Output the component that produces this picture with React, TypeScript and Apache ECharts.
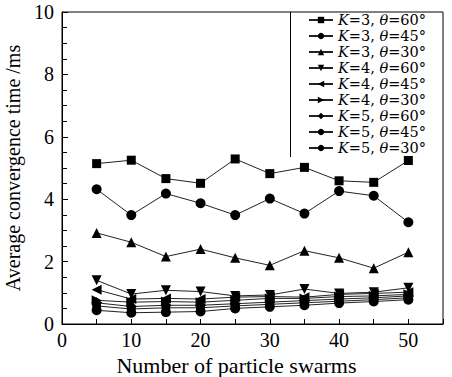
import React, { useEffect, useRef } from "react";
import * as echarts from "echarts";

const swarms = [5, 10, 15, 20, 25, 30, 35, 40, 45, 50];
const seriesNames = [
  "K=3, θ=60°", "K=3, θ=45°", "K=3, θ=30°",
  "K=4, θ=60°", "K=4, θ=45°", "K=4, θ=30°",
  "K=5, θ=60°", "K=5, θ=45°", "K=5, θ=30°",
];
const k3t60 = [5.14, 5.25, 4.66, 4.51, 5.29, 4.82, 5.02, 4.59, 4.54, 5.24];
const k3t45 = [4.32, 3.49, 4.18, 3.87, 3.49, 4.02, 3.54, 4.26, 4.11, 3.26];
const k3t30 = [2.92, 2.62, 2.16, 2.40, 2.12, 1.88, 2.35, 2.12, 1.79, 2.30];
const k4t60 = [1.40, 0.96, 1.08, 1.04, 0.90, 0.93, 1.12, 0.98, 1.02, 1.16];
const k4t45 = [1.10, 0.80, 0.82, 0.80, 0.86, 0.88, 0.86, 0.95, 0.98, 1.02];
const k4t30 = [0.76, 0.70, 0.72, 0.70, 0.76, 0.82, 0.82, 0.88, 0.90, 0.95];
const k5t60 = [0.68, 0.56, 0.60, 0.60, 0.65, 0.70, 0.75, 0.80, 0.84, 0.90];
const k5t45 = [0.58, 0.48, 0.52, 0.52, 0.58, 0.63, 0.68, 0.73, 0.78, 0.84];
const k5t30 = [0.44, 0.36, 0.38, 0.40, 0.50, 0.55, 0.60, 0.67, 0.72, 0.78];
const allData = [k3t60, k3t45, k3t30, k4t60, k4t45, k4t30, k5t60, k5t45, k5t30];
const symbols = ["rect", "circle", "triangle", "triangle", "triangle", "triangle", "diamond", "circle", "circle"];
const rotations = [0, 0, 0, 180, 90, -90, 0, 0, 0];
const sizes = [9, 10, 10, 10, 10, 10, 11, 9, 10];

const FONT = "Liberation Serif";
const LFONT = "DejaVu Serif";

export default function App() {
  const ref = useRef<HTMLDivElement>(null);
  useEffect(() => {
    const chart = echarts.init(ref.current!, null, { renderer: "svg" });
    const series = allData.map((d, i) => ({
      name: seriesNames[i],
      type: "line",
      data: swarms.map((x, j) => [x, d[j]]),
      symbol: symbols[i],
      symbolRotate: rotations[i],
      symbolSize: sizes[i],
      lineStyle: { color: "#222", width: 1 },
      itemStyle: { color: "#000" },
      z: 2,
    }));
    chart.setOption({
      animation: false,
      backgroundColor: "#fff",
      grid: {
        left: 62, right: 9, top: 12, bottom: 53,
        outerBoundsMode: "none",
        containLabel: false,
        show: true, borderColor: "#000", borderWidth: 1,
      },
      legend: {
        left: 308,
        top: 12,
        orient: "vertical",
        align: "left",
        itemWidth: 24,
        itemHeight: 8,
        itemGap: 0,
        itemTextGap: 7,
        padding: 0,
        formatter: (name: string) => {
          const m = name.match(/K=(\d), θ=(\d+)°/);
          if (!m) return name;
          return `{i|K}{n|=${m[1]}, }{i|θ}{n|=${m[2]}°}`;
        },
        textStyle: {
          fontFamily: LFONT,
          fontSize: 14.5,
          color: "#000",
          lineHeight: 16,
          rich: {
            i: { fontFamily: LFONT, fontSize: 14.5, fontStyle: "italic", color: "#000", lineHeight: 16 },
            n: { fontFamily: LFONT, fontSize: 14.5, color: "#000", lineHeight: 16 },
          },
        },
        data: seriesNames,
      },
      graphic: [
        { type: "line", shape: { x1: 290.5, y1: 12, x2: 290.5, y2: 157 }, style: { stroke: "#000", lineWidth: 1 }, z: 100 },
      ],
      xAxis: {
        type: "value",
        min: 0,
        max: 55,
        interval: 5,
        name: "Number of particle swarms",
        nameLocation: "middle",
        nameGap: 29,
        nameTextStyle: { fontFamily: FONT, fontSize: 22, color: "#000", padding: [0, 32, 0, 0] },
        axisLine: { lineStyle: { color: "#000", width: 1 } },
        axisTick: { inside: true, length: 5, lineStyle: { color: "#000" } },
        axisLabel: {
          fontFamily: FONT,
          fontSize: 20,
          color: "#000",
          margin: 6,
          formatter: (v: number) => (v % 10 === 0 && v <= 50 ? String(v) : ""),
        },
        splitLine: { show: false },
      },
      yAxis: {
        type: "value",
        min: 0,
        max: 10,
        interval: 2,
        name: "Average convergence time /ms",
        nameLocation: "middle",
        nameGap: 30,
        nameTextStyle: { fontFamily: FONT, fontSize: 20, color: "#000" },
        axisLine: { lineStyle: { color: "#000", width: 1 } },
        axisTick: { inside: true, length: 6, lineStyle: { color: "#000" } },
        minorTick: { show: true, splitNumber: 4, length: 5, lineStyle: { color: "#000" } },
        axisLabel: { fontFamily: FONT, fontSize: 20, color: "#000", margin: 8 },
        splitLine: { show: false },
      },
      series,
    });
    return () => chart.dispose();
  }, []);
  return <div ref={ref} style={{ width: 452, height: 377, position: "absolute", left: 0, top: 0 }} />;
}
